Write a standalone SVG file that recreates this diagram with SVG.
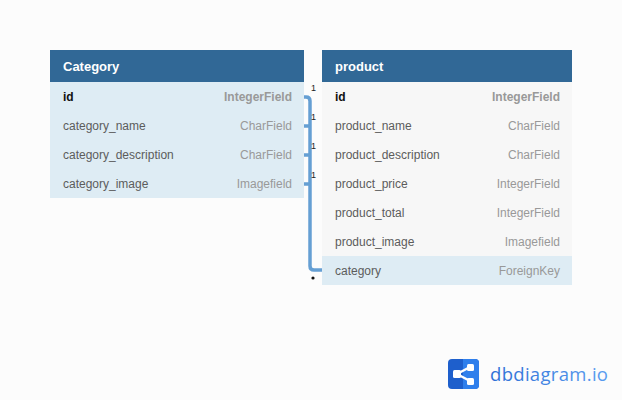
<svg xmlns="http://www.w3.org/2000/svg" width="622" height="400" viewBox="0 0 622 400">
<defs>
<linearGradient id="lg" x1="0" y1="0" x2="1" y2="0"><stop offset="0" stop-color="#2f6fd6"/><stop offset="1" stop-color="#5a9df0"/></linearGradient>
<clipPath id="ic"><rect x="448" y="359" width="31" height="30" rx="4"/></clipPath>
</defs>
<style>
text{font-family:"Liberation Sans",Arial,sans-serif;font-size:12px}
.h{fill:#316896}
.t{fill:#fff;font-weight:700;font-size:13px}
.n{fill:#5c5c5c}
.k{fill:#111;font-weight:700}
.y{fill:#999;text-anchor:end}
.yb{fill:#999;text-anchor:end;font-weight:700}
.c{fill:none;stroke:#659fd3;stroke-width:3.500}
.m{fill:#222;font-size:9px}
</style>
<rect width="622" height="400" fill="#fcfcfc"/>
<g id="Category">
<rect x="50" y="82" width="254" height="116" fill="#deecf4"/>
<rect class="h" x="50" y="50" width="254" height="32"/>
<text class="t" x="63" y="71">Category</text>
<text class="k" x="63" y="101">id</text><text class="yb" x="292" y="101">IntegerField</text>
<text class="n" x="63" y="130">category_name</text><text class="y" x="292" y="130">CharField</text>
<text class="n" x="63" y="159">category_description</text><text class="y" x="292" y="159">CharField</text>
<text class="n" x="63" y="188">category_image</text><text class="y" x="292" y="188">Imagefield</text>
</g>
<g id="product">
<rect x="322" y="82" width="250" height="203" fill="#f7f7f7"/>
<rect x="322" y="256" width="250" height="29" fill="#deecf4"/>
<rect class="h" x="322" y="50" width="250" height="32"/>
<text class="t" x="335" y="71">product</text>
<text class="k" x="335" y="101">id</text><text class="yb" x="560" y="101">IntegerField</text>
<text class="n" x="335" y="130">product_name</text><text class="y" x="560" y="130">CharField</text>
<text class="n" x="335" y="159">product_description</text><text class="y" x="560" y="159">CharField</text>
<text class="n" x="335" y="188">product_price</text><text class="y" x="560" y="188">IntegerField</text>
<text class="n" x="335" y="217">product_total</text><text class="y" x="560" y="217">IntegerField</text>
<text class="n" x="335" y="246">product_image</text><text class="y" x="560" y="246">Imagefield</text>
<text class="n" x="335" y="275">category</text><text class="y" x="560" y="275">ForeignKey</text>
</g>
<g id="connectors">
<path class="c" d="M304 97H306Q310 97 310 101V266Q310 270 314 270H322"/>
<path class="c" d="M304 126H310"/>
<path class="c" d="M304 155H310"/>
<path class="c" d="M304 184H310"/>
<text class="m" x="311" y="91">1</text>
<text class="m" x="311" y="120">1</text>
<text class="m" x="311" y="149">1</text>
<text class="m" x="311" y="178">1</text>
<circle cx="313" cy="278" r="1.600" fill="#111"/>
</g>
<g id="logo">
<g clip-path="url(#ic)">
<rect x="448" y="359" width="31" height="30" fill="#1e5fcc"/>
<rect x="463" y="359" width="16" height="30" fill="#2f7fec"/>
</g>
<path d="M457 374L470 367M457 374L470 381" stroke="#fff" stroke-width="2.500" fill="none"/>
<rect x="453" y="370" width="8" height="8" rx="1.500" fill="#fff"/>
<rect x="467" y="364" width="7" height="7" rx="1.500" fill="#fff"/>
<rect x="467" y="378" width="7" height="7" rx="1.500" fill="#fff"/>
<text x="490" y="381" fill="url(#lg)" textLength="118" style="font-family:'Open Sans','Noto Sans',sans-serif;font-size:18.500px">dbdiagram.io</text>
</g>
</svg>
